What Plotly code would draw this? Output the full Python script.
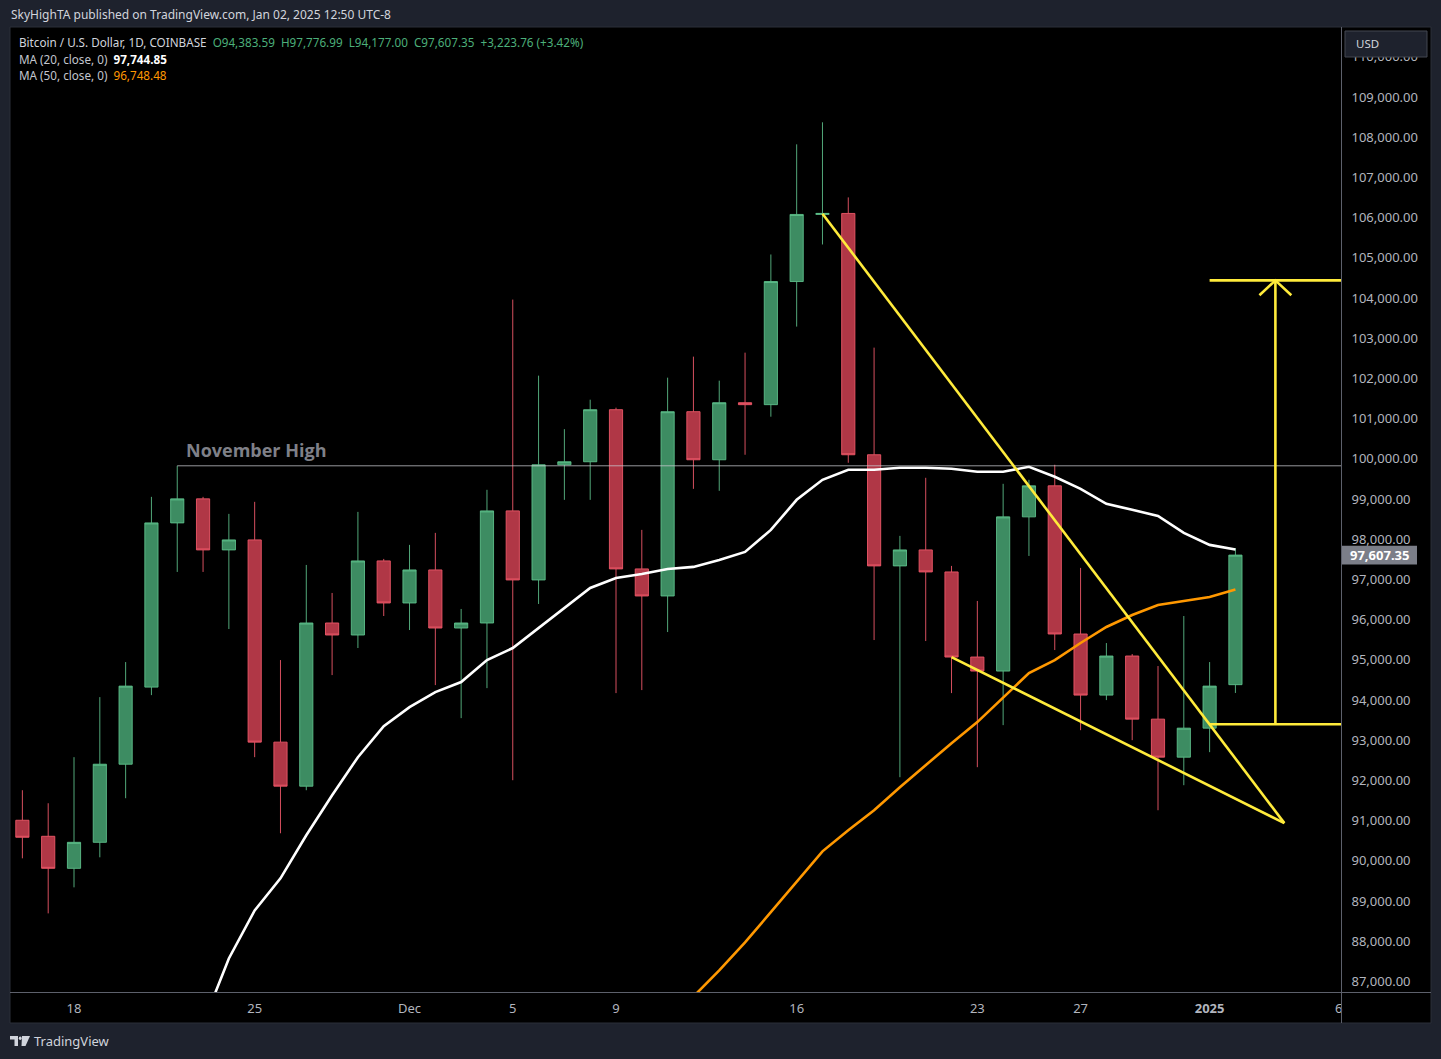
import pandas as pd
import plotly.graph_objects as go

W, H = 1441, 1059

# ---------------- data ----------------
dates = pd.date_range("2024-11-16", "2025-01-02", freq="D")

open_ = [91011, 90612, 89815, 90462, 92405, 94323, 98408, 99006, 97736, 97985,
         92954, 91858, 95918, 95619, 97462, 96416, 97238, 95793, 95918, 98707,
         96989, 99854, 99929, 101224, 97263, 96590, 101174, 99978, 101398, 101349,
         104412, 106081, 106106, 100103, 97338, 97736, 97188, 95071, 94722, 98558,
         99330, 95644, 94124, 95096, 93526, 92580, 93302, 94383.59]
high = [91758, 91434, 92580, 94074, 94946, 99056, 99828, 99056, 98632, 98932,
        94996, 97362, 96665, 98682, 97512, 97861, 98160, 96267, 99231, 103963,
        102071, 100740, 101473, 101274, 98234, 102021, 102544, 101946, 102643, 105085,
        107825, 108373, 106505, 102768, 98085, 99530, 97338, 96466, 99380, 99480,
        99854, 97288, 95419, 95146, 94847, 96092, 94946, 97776.99]
low = [90064, 88694, 89342, 90089, 91559, 94124, 97188, 97188, 95768, 92580,
       90687, 91758, 94622, 95295, 96092, 95743, 94373, 93551, 94298, 92007,
       96391, 98981, 98981, 94174, 94249, 95693, 99255, 99206, 100103, 101050,
       103291, 105334, 99904, 95494, 92082, 95469, 94174, 92331, 93377, 97586,
       95245, 93252, 94000, 93003, 91260, 91883, 92705, 94177.00]
close = [90587, 89815, 90462, 92405, 94348, 98408, 99006, 97736, 97985, 92954,
         91858, 95918, 95619, 97462, 96416, 97238, 95793, 95918, 98707, 96989,
         99854, 99929, 101224, 97263, 96590, 101174, 99978, 101398, 101349, 104412,
         106081, 106106, 100103, 97338, 97736, 97188, 95071, 94722, 98558, 99330,
         95644, 94124, 95096, 93526, 92580, 93302, 94348, 97607.35]

ma20_dates = pd.date_range("2024-11-23", "2025-01-02", freq="D")
ma20 = [85950, 87573, 88769, 89566, 90637, 91633, 92580, 93352, 93825, 94199,
        94448, 94996, 95295, 95793, 96291, 96790, 97039, 97138, 97263, 97313,
        97487, 97686, 98234, 98982, 99480, 99729, 99729, 99779, 99779, 99754,
        99679, 99679, 99804, 99555, 99256, 98882, 98733, 98583, 98160, 97861,
        97744.85]

ma50_dates = pd.date_range("2024-12-12", "2025-01-02", freq="D")
ma50 = [86626, 87274, 87971, 88719, 89466, 90238, 90761, 91260, 91833, 92381,
        92929, 93452, 94074, 94672, 94996, 95420, 95818, 96117, 96366, 96466,
        96565, 96748.48]

x_tick_vals = ["2024-11-18", "2024-11-25", "2024-12-01", "2024-12-05", "2024-12-09",
               "2024-12-16", "2024-12-23", "2024-12-27", "2025-01-01", "2025-01-06"]
x_tick_text = ["18", "25", "Dec", "5", "9", "16", "23", "27", "<b>2025</b>", "6"]

# drawings
nov_high_x = ["2024-11-22", "2025-01-08"]
nov_high_y = [99828, 99828]
wedge_upper_x = ["2024-12-17", "2025-01-03 21:30"]
wedge_upper_y = [106100, 90940]
wedge_lower_x = ["2024-12-22", "2025-01-03 21:30"]
wedge_lower_y = [95070, 90940]
target_base_x = ["2025-01-01", "2025-01-08"]
target_base_y = [93400, 93400]
target_top_x = ["2025-01-01", "2025-01-08"]
target_top_y = [104440, 104440]
arrow_x = ["2025-01-03 13:10", "2025-01-03 13:10"]
arrow_y = [93400, 104440]
arrow_head_x = ["2025-01-02 22:20", "2025-01-03 13:10", "2025-01-04 04:00"]
arrow_head_y = [104070, 104440, 104070]

last_price = 97607.35

# ---------------- helpers ----------------
def px(x):
    return x / W

def py(y):
    return 1 - y / H

FONT = "Noto Sans"
YELLOW = "#ffeb3b"

fig = go.Figure()

fig.add_trace(go.Scatter(x=ma20_dates, y=ma20, mode="lines",
                         line=dict(color="#ffffff", width=2.6), hoverinfo="skip"))
fig.add_trace(go.Scatter(x=ma50_dates, y=ma50, mode="lines",
                         line=dict(color="#ff9800", width=2.6), hoverinfo="skip"))

fig.add_trace(go.Candlestick(
    x=dates, open=open_, high=high, low=low, close=close,
    increasing=dict(fillcolor="rgba(78,180,126,0.78)",
                    line=dict(color="rgba(96,196,142,0.85)", width=1)),
    decreasing=dict(fillcolor="rgba(226,70,90,0.78)",
                    line=dict(color="rgba(236,88,104,0.9)", width=1)),
    whiskerwidth=0, hoverinfo="skip"))

fig.add_trace(go.Scatter(x=nov_high_x, y=nov_high_y, mode="lines",
                         line=dict(color="rgba(200,202,208,0.75)", width=1), hoverinfo="skip"))

for xs, ys in [(wedge_upper_x, wedge_upper_y), (wedge_lower_x, wedge_lower_y),
               (target_base_x, target_base_y), (target_top_x, target_top_y),
               (arrow_x, arrow_y), (arrow_head_x, arrow_head_y)]:
    fig.add_trace(go.Scatter(x=xs, y=ys, mode="lines",
                             line=dict(color=YELLOW, width=2.6), hoverinfo="skip"))

base = pd.Timestamp("2024-11-18")
x_range = [(base + pd.Timedelta(days=-2.48)).strftime("%Y-%m-%d %H:%M:%S"),
           (base + pd.Timedelta(days=49.11)).strftime("%Y-%m-%d %H:%M:%S")]

shapes = [
    # chart panel
    dict(type="rect", xref="paper", yref="paper", x0=px(10), x1=px(1431), y0=py(1023), y1=py(27),
         fillcolor="#000000", line=dict(color="#2a2e39", width=1), layer="below"),
    # separators
    dict(type="line", xref="paper", yref="paper", x0=px(1341.5), x1=px(1341.5), y0=py(1023), y1=py(27),
         line=dict(color="#5d606b", width=1), layer="above"),
    dict(type="line", xref="paper", yref="paper", x0=px(10), x1=px(1431), y0=py(992.5), y1=py(992.5),
         line=dict(color="#5d606b", width=1), layer="above"),
    # USD badge
    dict(type="rect", xref="paper", yref="paper", x0=px(1345), x1=px(1427), y0=py(57), y1=py(31),
         fillcolor="#1e222d", line=dict(color="#434651", width=1), layer="above"),
    # last price label
    dict(type="rect", xref="paper", yref="y", x0=px(1342), x1=px(1417),
         y0=last_price - 235, y1=last_price + 235,
         fillcolor="#7b7e88", line=dict(width=0), layer="above"),
    # TradingView logo
    dict(type="path", xref="paper", yref="paper",
         path=f"M {px(10)},{py(1036)} L {px(18)},{py(1036)} L {px(18)},{py(1046)} L {px(14.5)},{py(1046)} "
              f"L {px(14.5)},{py(1039.5)} L {px(10)},{py(1039.5)} Z",
         fillcolor="#d1d4dc", line=dict(width=0), layer="above"),
    dict(type="circle", xref="paper", yref="paper", x0=px(18.8), x1=px(21.6), y0=py(1040), y1=py(1036.5),
         fillcolor="#d1d4dc", line=dict(width=0), layer="above"),
    dict(type="path", xref="paper", yref="paper",
         path=f"M {px(22)},{py(1036)} L {px(30)},{py(1036)} L {px(25.5)},{py(1046)} L {px(21.5)},{py(1046)} Z",
         fillcolor="#d1d4dc", line=dict(width=0), layer="above"),
]

nb = "\u00a0"
annotations = [
    dict(xref="paper", yref="paper", x=px(9), y=py(14), xanchor="left", yanchor="middle", showarrow=False,
         text="SkyHighTA published on TradingView.com, Jan 02, 2025 12:50 UTC-8",
         font=dict(family=FONT, size=12, color="#d1d4dc")),
    dict(xref="paper", yref="paper", x=px(17), y=py(42), xanchor="left", yanchor="middle", showarrow=False,
         text=("<span style='color:#d1d4dc'>Bitcoin / U.S. Dollar, 1D, COINBASE</span>" + nb * 2 +
               "<span style='color:#4caf7a'>O94,383.59" + nb * 2 + "H97,776.99" + nb * 2 + "L94,177.00" + nb * 2 +
               "C97,607.35" + nb * 2 + "+3,223.76 (+3.42%)</span>"),
         font=dict(family=FONT, size=11.7, color="#d1d4dc")),
    dict(xref="paper", yref="paper", x=px(17), y=py(59), xanchor="left", yanchor="middle", showarrow=False,
         text="<span style='color:#c3c6ce'>MA (20, close, 0)</span>" + nb * 2 + "<b>97,744.85</b>",
         font=dict(family=FONT, size=11.7, color="#ffffff")),
    dict(xref="paper", yref="paper", x=px(17), y=py(75), xanchor="left", yanchor="middle", showarrow=False,
         text="<span style='color:#c3c6ce'>MA (50, close, 0)</span>" + nb * 2 + "<span style='color:#ff9800'>96,748.48</span>",
         font=dict(family=FONT, size=11.7, color="#ffffff")),
    dict(xref="x", yref="y", x=(pd.Timestamp(nov_high_x[0]) + pd.Timedelta(hours=6)).strftime("%Y-%m-%d %H:%M:%S"),
         y=100230, xanchor="left", yanchor="middle", showarrow=False,
         text="<b>November High</b>", font=dict(family="Open Sans", size=18, color="#7f8088")),
    dict(xref="paper", yref="paper", x=px(1354), y=py(44), xanchor="left", yanchor="middle", showarrow=False,
         text="USD", font=dict(family=FONT, size=11.5, color="#d1d4dc")),
    dict(xref="paper", yref="y", x=px(1379.5), y=last_price, xanchor="center", yanchor="middle", showarrow=False,
         text="<b>97,607.35</b>", font=dict(family=FONT, size=13, color="#ffffff")),
    dict(xref="paper", yref="paper", x=px(32), y=py(1041), xanchor="left", yanchor="middle", showarrow=False,
         text="TradingView", font=dict(family=FONT, size=13, color="#d1d4dc")),
]

fig.update_layout(
    width=W, height=H,
    margin=dict(l=0, r=0, t=0, b=0),
    paper_bgcolor="#1e222d",
    plot_bgcolor="#000000",
    showlegend=False,
    hovermode=False,
    boxgap=0.27,
    font=dict(family=FONT, color="#b2b5be"),
    xaxis=dict(domain=[px(10), px(1341.5)], range=x_range, type="date",
               rangeslider=dict(visible=False), showgrid=False, zeroline=False,
               tickmode="array", tickvals=x_tick_vals, ticktext=x_tick_text,
               ticks="", ticklabelstandoff=6, showline=False,
               tickfont=dict(family=FONT, size=13, color="#b2b5be")),
    yaxis=dict(domain=[py(992.5), py(27)], range=[86726, 110744], side="right",
               showgrid=False, zeroline=False, tick0=0, dtick=1000, tickformat=",.2f",
               ticks="", ticklabelstandoff=9, showline=False,
               tickfont=dict(family=FONT, size=13, color="#b2b5be")),
    shapes=shapes,
    annotations=annotations,
)

fig.write_html(
    "out.html",
    config={"displayModeBar": False},
    post_script="document.body.style.margin='0';document.body.style.background='#1e222d';",
)
